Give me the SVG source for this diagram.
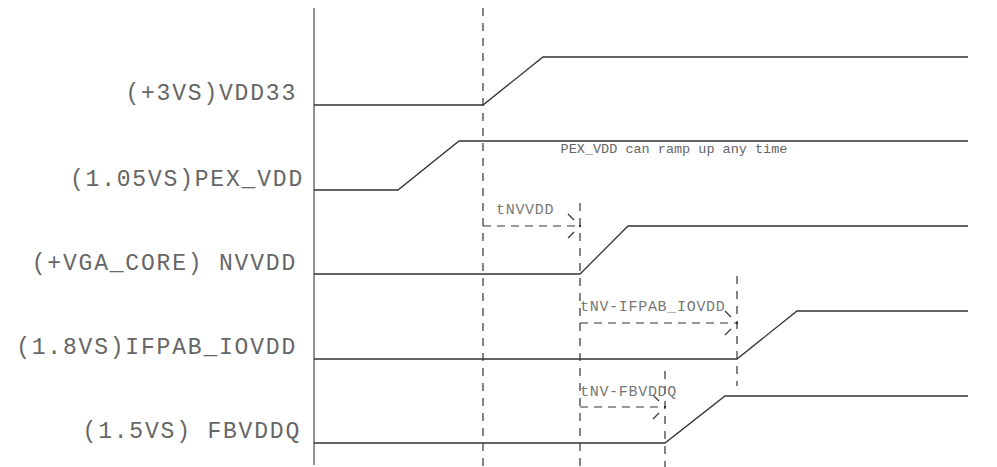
<svg xmlns="http://www.w3.org/2000/svg" width="997" height="467" viewBox="0 0 997 467">
<style>
.lbl{font-family:"Liberation Mono","Courier New",monospace;font-size:23px;letter-spacing:1.8px;fill:#666;text-anchor:end}
.tlbl{font-family:"Liberation Mono","Courier New",monospace;font-size:15px;letter-spacing:0.7px;fill:#777}
.note{font-family:"Liberation Mono","Courier New",monospace;font-size:13.5px;fill:#666;text-anchor:middle}
.sig{fill:none;stroke:#333;stroke-width:1.3}
.axis{fill:none;stroke:#777;stroke-width:1.6}
.guide{fill:none;stroke:#333;stroke-width:1.2;stroke-dasharray:8 7}
.meas{fill:none;stroke:#333;stroke-width:1.2;stroke-dasharray:8 6}
</style>
<defs>
<marker id="ah" markerUnits="userSpaceOnUse" markerWidth="30" markerHeight="30" refX="15" refY="15" orient="auto" overflow="visible">
<path d="M3,3 L9,9 M3,27 L9,21" fill="none" stroke="#333" stroke-width="1.2"/>
<circle cx="15" cy="15" r="1.2" fill="#333"/>
</marker>
</defs>
<g id="axis"><line class="axis" x1="314" y1="8" x2="314" y2="465"/></g>
<g id="guides">
<line class="guide" x1="483" y1="8" x2="483" y2="467"/>
<line class="guide" x1="580" y1="203" x2="580" y2="467"/>
<line class="guide" x1="737" y1="276" x2="737" y2="386"/>
<line class="guide" x1="665" y1="371" x2="665" y2="467"/>
</g>
<g id="sig-vdd33">
<text class="lbl" x="297" y="100">(+3VS)VDD33</text>
<polyline class="sig" points="314,105 483,105 543,57 968,57"/>
</g>
<g id="sig-pexvdd">
<text class="lbl" x="304" y="186">(1.05VS)PEX_VDD</text>
<polyline class="sig" points="314,190 398,190 459,141 968,141"/>
<text class="note" x="674" y="153">PEX_VDD can ramp up any time</text>
</g>
<g id="sig-nvvdd">
<text class="lbl" x="297" y="270">(+VGA_CORE) NVVDD</text>
<polyline class="sig" points="314,274 580,274 628,226 968,226"/>
</g>
<g id="sig-ifpab">
<text class="lbl" x="297" y="354">(1.8VS)IFPAB_IOVDD</text>
<polyline class="sig" points="314,359 737,359 797,311 968,311"/>
</g>
<g id="sig-fbvddq">
<text class="lbl" x="301" y="438">(1.5VS) FBVDDQ</text>
<polyline class="sig" points="314,443 665,443 725,396 968,396"/>
</g>
<g id="connectors">
<g id="t-nvvdd">
<line class="meas" x1="483" y1="226" x2="580" y2="226" marker-end="url(#ah)"/>
<text class="tlbl" x="496" y="214">tNVVDD</text>
</g>
<g id="t-ifpab">
<line class="meas" x1="580" y1="323" x2="737" y2="323" marker-end="url(#ah)"/>
<text class="tlbl" x="580" y="311">tNV-IFPAB_IOVDD</text>
</g>
<g id="t-fbvddq">
<line class="meas" x1="580" y1="407" x2="665" y2="407" marker-end="url(#ah)"/>
<text class="tlbl" x="580" y="396">tNV-FBVDDQ</text>
</g>
</g>
</svg>
